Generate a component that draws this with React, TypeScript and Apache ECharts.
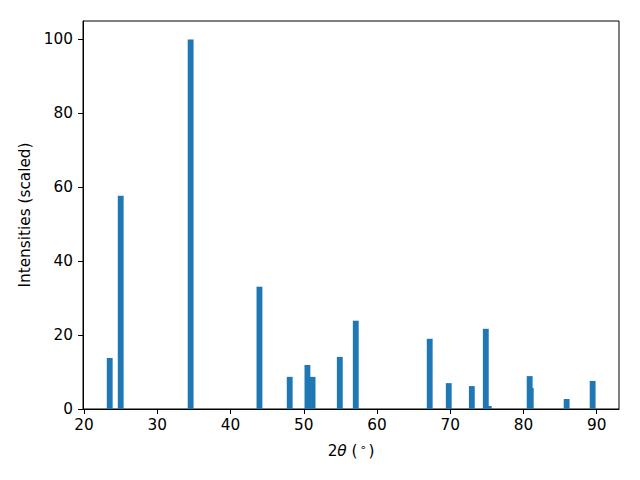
import React, { useEffect, useRef } from "react";
import * as echarts from "echarts";

// Peak positions (2θ, degrees) and scaled intensities
const positions = [23.5, 25.0, 34.55, 43.95, 48.08, 50.5, 51.2, 54.92, 57.1, 67.2, 69.8, 72.95, 74.86, 75.26, 80.85, 81.0, 85.9, 89.45];
const intensities = [13.8, 57.7, 100, 33.1, 8.7, 11.9, 8.7, 14.1, 23.9, 19.0, 7.0, 6.2, 21.7, 0.8, 8.9, 5.7, 2.7, 7.6];

const xTicks = [20, 30, 40, 50, 60, 70, 80, 90];
const yTicks = [0, 20, 40, 60, 80, 100];

const BAR_WIDTH = 0.8; // in data units (matplotlib default)
const FONT = "DejaVu Sans";
const FS = 15.3;

export default function App() {
  const ref = useRef<HTMLDivElement>(null);

  useEffect(() => {
    if (!ref.current) return;
    const chart = echarts.init(ref.current, null, { renderer: "svg" });
    const data = positions.map((p, i) => [p, intensities[i]]);

    chart.setOption({
      animation: false,
      backgroundColor: "#ffffff",
      textStyle: { fontFamily: FONT },
      grid: {
        left: 83,
        right: 21,
        top: 21,
        bottom: 71,
        show: true,
        borderColor: "#000",
        borderWidth: 1,
        backgroundColor: "transparent",
      },
      xAxis: {
        type: "value",
        min: 19.85,
        max: 93.05,
        name: "{a|2}{b|θ}{a| (}{c|∘}{a|)}",
        nameLocation: "middle",
        nameGap: 33,
        nameTextStyle: {
          color: "#000",
          fontFamily: FONT,
          fontSize: FS,
          rich: {
            a: { fontSize: FS, fontFamily: FONT, color: "#000" },
            b: { fontSize: FS, fontFamily: FONT, fontStyle: "italic", color: "#000" },
            c: { fontSize: 11, fontFamily: FONT, color: "#000", padding: [0, 2, 7, 2] },
          },
        },
        axisLine: { show: true, lineStyle: { color: "#000", width: 1 } },
        axisTick: {
          show: true,
          length: 5,
          inside: false,
          customValues: xTicks,
          lineStyle: { color: "#000", width: 1 },
        },
        axisLabel: {
          customValues: xTicks,
          color: "#000",
          fontFamily: FONT,
          fontSize: FS,
          margin: 8,
        },
        splitLine: { show: false },
      },
      yAxis: {
        type: "value",
        min: 0,
        max: 105,
        name: "Intensities (scaled)",
        nameLocation: "middle",
        nameRotate: 90,
        nameGap: 48,
        nameTextStyle: { color: "#000", fontFamily: FONT, fontSize: FS },
        axisLine: { show: true, lineStyle: { color: "#000", width: 1 } },
        axisTick: {
          show: true,
          length: 5,
          inside: false,
          customValues: yTicks,
          lineStyle: { color: "#000", width: 1 },
        },
        axisLabel: {
          customValues: yTicks,
          color: "#000",
          fontFamily: FONT,
          fontSize: FS,
          margin: 10,
        },
        splitLine: { show: false },
      },
      series: [
        {
          type: "custom",
          data,
          encode: { x: 0, y: 1 },
          renderItem: (params: any, api: any) => {
            const x = api.value(0);
            const y = api.value(1);
            const p0 = api.coord([x - BAR_WIDTH / 2, y]);
            const p1 = api.coord([x + BAR_WIDTH / 2, 0]);
            return {
              type: "rect",
              shape: { x: p0[0], y: p0[1], width: p1[0] - p0[0], height: p1[1] - p0[1] },
              style: { fill: "#1f77b4" },
            };
          },
        },
      ],
    });

    return () => chart.dispose();
  }, []);

  return (
    <div
      ref={ref}
      style={{ position: "fixed", left: 0, top: 0, width: 640, height: 480, background: "#fff" }}
    />
  );
}
